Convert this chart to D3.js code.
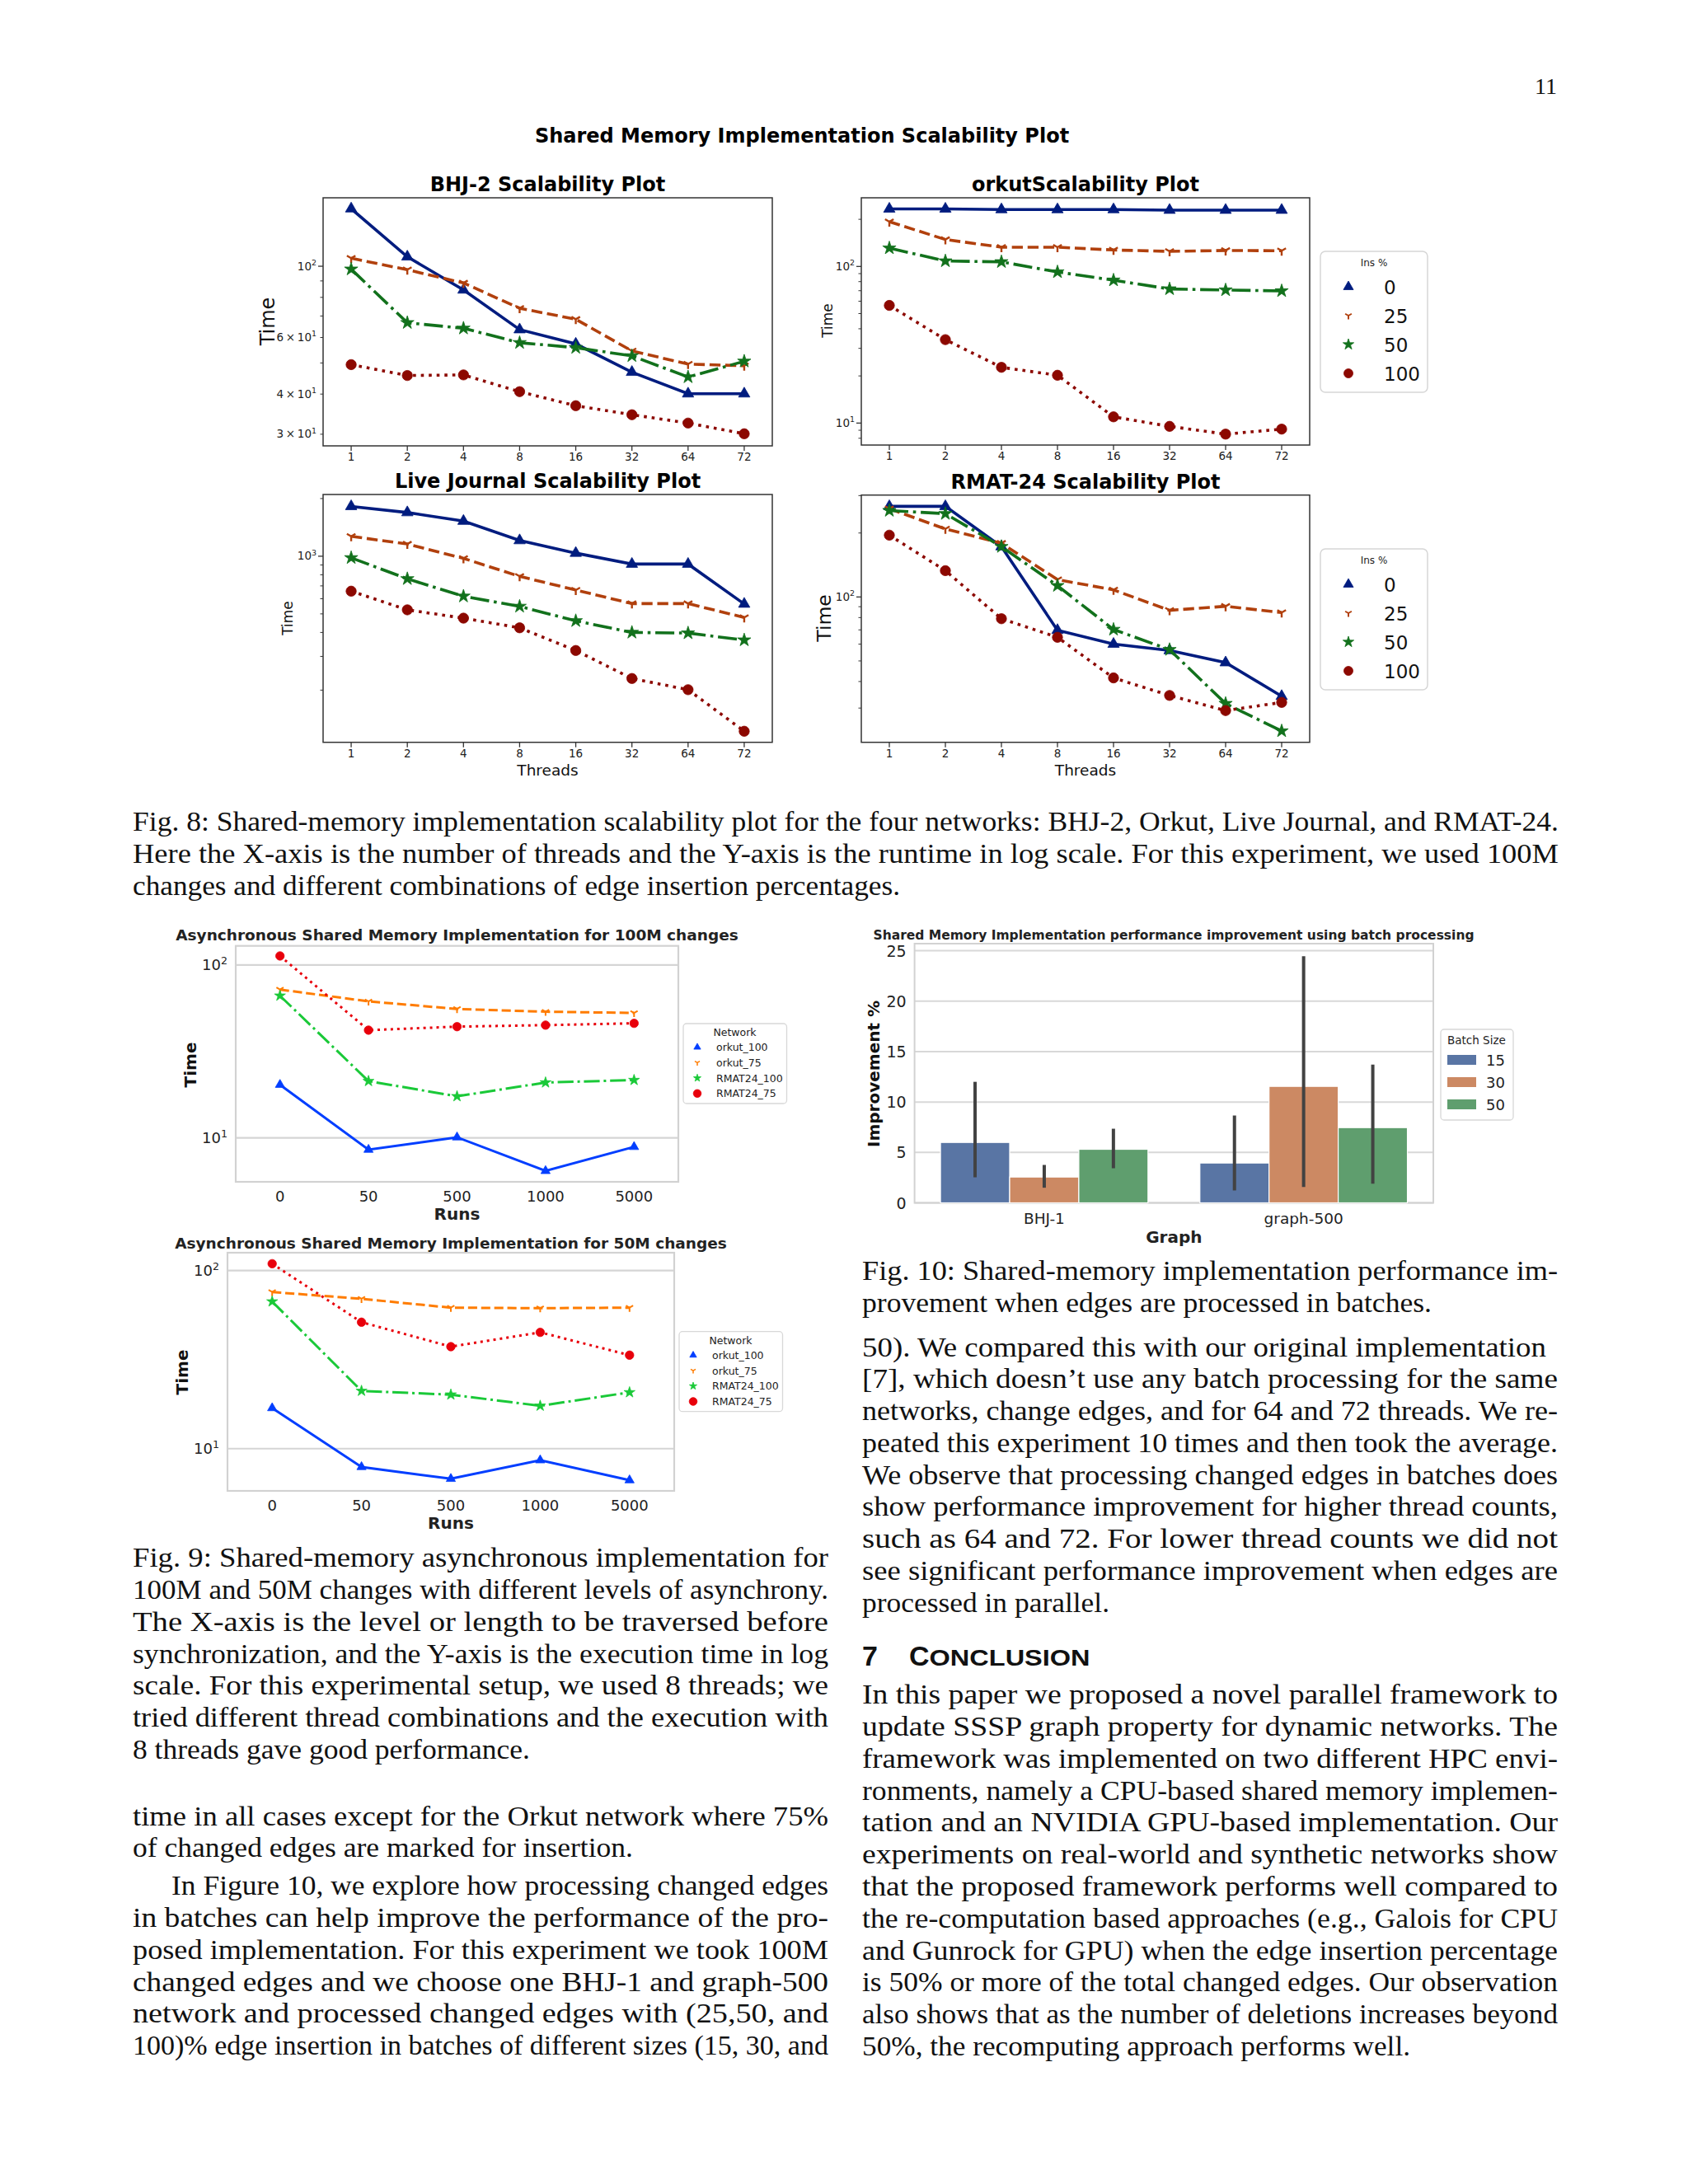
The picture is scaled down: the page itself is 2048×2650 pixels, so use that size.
<!DOCTYPE html>
<html><head><meta charset="utf-8">
<script src="https://cdn.jsdelivr.net/npm/d3@7"></script>
<style>body{margin:0;background:#fff}svg{display:block}</style>
</head><body>
<svg id="page" width="2048" height="2650"></svg>
<script>
// ---------------- DATA ----------------
const threads = ["1","2","4","8","16","32","64","72"];
const insPct = ["0","25","50","100"];
const bhj2_ins0   = [151,107,84.4,63.5,57.3,46.8,40.1,40.1];
const bhj2_ins25  = [105.9,97.5,88.7,74,68.4,54.5,49.6,49.0];
const bhj2_ins50  = [97.9,66.7,64.1,57.8,55.8,52.6,45.2,50.6];
const bhj2_ins100 = [49.4,45.7,45.9,40.7,36.8,34.5,32.5,30.1];
const orkut_ins0   = [233,233,231,231,231,229,229,229];
const orkut_ins25  = [193,148.6,132.7,132.7,127.4,124.8,126.5,126];
const orkut_ins50  = [131,108.3,107,92.2,81.7,71.8,70.7,69.8];
const orkut_ins100 = [56.4,34.1,22.7,20.2,10.96,9.53,8.5,9.15];
const lj_ins0   = [1820,1691,1525,1208,1038,910,910,563];
const lj_ins25  = [1270,1158,975,785,666,566,566,479];
const lj_ins50  = [981,762,618,547,460,400,397,365];
const lj_ins100 = [657,525,475,423,322,230,201,122];
const rmat_ins0   = [267,267,172.5,69.7,60,56,49.1,34.1];
const rmat_ins25  = [260,209,179,120.7,108,86.5,90.4,84.5];
const rmat_ins50  = [255,246.6,172.5,113,70.3,56.5,31.5,23.4];
const rmat_ins100 = [195.4,133,79,64.6,41.6,34.4,29.2,31.9];
const bhj2YTickLabels  = [30,40,60,100];
const orkutYTickLabels = [10,100];
const ljYTickLabels    = [1000];
const rmatYTickLabels  = [100];

const runs = ["0","50","500","1000","5000"];
const networks = ["orkut_100","orkut_75","RMAT24_100","RMAT24_75"];
const async100_orkut100 = [20.3,8.55,10.08,6.44,8.87];
const async100_orkut75  = [72.1,61.6,55.7,53.7,52.8];
const async100_rmat100  = [66.4,21.3,17.4,20.9,21.6];
const async100_rmat75   = [112.8,42,44,44.9,46];
const async50_orkut100 = [16.9,7.89,6.77,8.61,6.65];
const async50_orkut75  = [75.8,69.4,61.9,61.5,61.9];
const async50_rmat100  = [67,21.1,20.1,17.4,20.7];
const async50_rmat75   = [109.3,51.3,37.4,45,33.5];
const asyncYTickLabels = [10,100];

const graphs = ["BHJ-1","graph-500"];
const batchSizes = ["15","30","50"];
const improve_b15 = [5.99,3.95];
const improve_b30 = [2.56,11.55];
const improve_b50 = [5.31,7.46];
const ciLow_b15  = [2.53,1.23];
const ciHigh_b15 = [12.0,8.66];
const ciLow_b30  = [1.50,1.58];
const ciHigh_b30 = [3.76,24.46];
const ciLow_b50  = [3.43,1.91];
const ciHigh_b50 = [7.35,13.7];
const improveTicks = [0,5,10,15,20,25];

// ---------------- TEXT ----------------
const fig8Caption = [
 "Fig. 8: Shared-memory implementation scalability plot for the four networks: BHJ-2, Orkut, Live Journal, and RMAT-24.",
 "Here the X-axis is the number of threads and the Y-axis is the runtime in log scale. For this experiment, we used 100M",
 "changes and different combinations of edge insertion percentages."];
const fig9Caption = [
 "Fig. 9: Shared-memory asynchronous implementation for",
 "100M and 50M changes with different levels of asynchrony.",
 "The X-axis is the level or length to be traversed before",
 "synchronization, and the Y-axis is the execution time in log",
 "scale. For this experimental setup, we used 8 threads; we",
 "tried different thread combinations and the execution with",
 "8 threads gave good performance."];
const leftPara1 = [
 "time in all cases except for the Orkut network where 75%",
 "of changed edges are marked for insertion."];
const leftPara2 = [
 "In Figure 10, we explore how processing changed edges",
 "in batches can help improve the performance of the pro-",
 "posed implementation. For this experiment we took 100M",
 "changed edges and we choose one BHJ-1 and graph-500",
 "network and processed changed edges with (25,50, and",
 "100)% edge insertion in batches of different sizes (15, 30, and"];
const fig10Caption = [
 "Fig. 10: Shared-memory implementation performance im-",
 "provement when edges are processed in batches."];
const rightPara1 = [
 "50). We compared this with our original implementation",
 "[7], which doesn\u2019t use any batch processing for the same",
 "networks, change edges, and for 64 and 72 threads. We re-",
 "peated this experiment 10 times and then took the average.",
 "We observe that processing changed edges in batches does",
 "show performance improvement for higher thread counts,",
 "such as 64 and 72. For lower thread counts we did not",
 "see significant performance improvement when edges are",
 "processed in parallel."];
const conclusionPara = [
 "In this paper we proposed a novel parallel framework to",
 "update SSSP graph property for dynamic networks. The",
 "framework was implemented on two different HPC envi-",
 "ronments, namely a CPU-based shared memory implemen-",
 "tation and an NVIDIA GPU-based implementation. Our",
 "experiments on real-world and synthetic networks show",
 "that the proposed framework performs well compared to",
 "the re-computation based approaches (e.g., Galois for CPU",
 "and Gunrock for GPU) when the edge insertion percentage",
 "is 50% or more of the total changed edges. Our observation",
 "also shows that as the number of deletions increases beyond",
 "50%, the recomputing approach performs well."];

// ---------------- HELPERS ----------------
const svg = d3.select("#page");
const SANS = "DejaVu Sans, Verdana, sans-serif";
const SERIF = "Liberation Serif, Times New Roman, serif";

function markerPath(type, r) {
  if (type === "tri") return `M0,${-r}L${0.866*r},${0.5*r}L${-0.866*r},${0.5*r}Z`;
  if (type === "circle") return `M${r},0A${r},${r} 0 1,1 ${-r},0A${r},${r} 0 1,1 ${r},0Z`;
  if (type === "star") {
    let p = "";
    for (let i = 0; i < 10; i++) {
      const rr = i % 2 === 0 ? r : r * 0.382;
      const a = -Math.PI/2 + i * Math.PI/5;
      p += (i ? "L" : "M") + (rr*Math.cos(a)).toFixed(2) + "," + (rr*Math.sin(a)).toFixed(2);
    }
    return p + "Z";
  }
  if (type === "tridown") return `M0,0L0,${r}M0,0L${-0.866*r},${-0.5*r}M0,0L${0.866*r},${-0.5*r}`;
}
function drawMarker(g, type, cx, cy, r, color, sw) {
  const p = g.append("path").attr("d", markerPath(type, r)).attr("transform", `translate(${cx},${cy})`);
  if (type === "tridown") p.attr("fill","none").attr("stroke",color).attr("stroke-width",sw||2);
  else p.attr("fill",color).attr("stroke",color).attr("stroke-width",0.8);
}
function dashFor(style, lw) {
  if (style === "dashed") return [3.7*lw,1.6*lw].join(",");
  if (style === "dashdot") return [6.4*lw,1.6*lw,1*lw,1.6*lw].join(",");
  if (style === "dotted") return [1*lw,1.65*lw].join(",");
  return null;
}
function sciLabel(g, v, x, y, size, anchor) {
  const k = Math.round(Math.floor(Math.log10(v) + 1e-9));
  const m = Math.round(v / Math.pow(10, k));
  const t = g.append("text").attr("x", x).attr("y", y).attr("text-anchor", anchor||"end")
    .attr("font-family", SANS).attr("font-size", size).attr("fill", "#222");
  t.append("tspan").text(m === 1 ? "10" : m + "\u2009\u00d7\u200910");
  t.append("tspan").attr("font-size", size*0.7).attr("dy", -size*0.42).text(String(k));
  return t;
}
function textLine(x, y, s, opts) {
  const t = svg.append("text").attr("x", x).attr("y", y).text(s)
    .attr("font-family", opts.family || SERIF).attr("font-size", opts.size || 33)
    .attr("fill", opts.fill || "#111");
  if (opts.weight) t.attr("font-weight", opts.weight);
  if (opts.anchor) t.attr("text-anchor", opts.anchor);
  if (opts.width) t.attr("textLength", opts.width).attr("lengthAdjust", "spacingAndGlyphs");
  return t;
}
function rotLabel(x, y, s, size, weight) {
  svg.append("text").attr("transform", `translate(${x},${y}) rotate(-90)`)
    .attr("text-anchor","middle").attr("font-family", SANS).attr("font-size", size)
    .attr("font-weight", weight || "normal").attr("fill","#111").text(s);
}

// ---------------- SCALABILITY PLOTS ----------------
const darkPal = ["#001c7f","#b1400d","#12711c","#8c0800"];
const insStyles = [
  {dash:"solid", marker:"tri", r:8},
  {dash:"dashed", marker:"tridown", r:6},
  {dash:"dashdot", marker:"star", r:8.5},
  {dash:"dotted", marker:"circle", r:6.2}];

function scalPlot(p) {
  const g = svg.append("g");
  const x = d3.scalePoint().domain(threads).range([p.left, p.right]).padding(0.5);
  const y = d3.scaleLog().domain(p.domain).range([p.bottom, p.top]);
  const lo = Math.floor(Math.log10(p.domain[0])), hi = Math.ceil(Math.log10(p.domain[1]));
  for (let k = lo; k <= hi; k++) for (let m = 1; m <= 9; m++) {
    const v = m * Math.pow(10, k);
    if (v < p.domain[0] || v > p.domain[1]) continue;
    const len = m === 1 ? 6 : 3.5;
    g.append("line").attr("x1", p.left - len).attr("x2", p.left).attr("y1", y(v)).attr("y2", y(v))
      .attr("stroke","#333").attr("stroke-width", m === 1 ? 1.3 : 1);
  }
  p.yLabels.forEach(v => sciLabel(g, v, p.left - 8, y(v) + 4.5, 13.5));
  threads.forEach(t => {
    g.append("line").attr("x1", x(t)).attr("x2", x(t)).attr("y1", p.bottom).attr("y2", p.bottom + 6)
      .attr("stroke","#333").attr("stroke-width",1.3);
    g.append("text").attr("x", x(t)).attr("y", p.bottom + 18).attr("text-anchor","middle")
      .attr("font-family", SANS).attr("font-size", 13.5).attr("fill","#222").text(t);
  });
  const lw = 3.6;
  p.series.forEach((vals, i) => {
    const st = insStyles[i];
    const line = d3.line().x((d, j) => x(threads[j])).y(d => y(d));
    const path = g.append("path").datum(vals).attr("d", line).attr("fill","none")
      .attr("stroke", darkPal[i]).attr("stroke-width", lw);
    const da = dashFor(st.dash, lw); if (da) path.attr("stroke-dasharray", da);
    vals.forEach((v, j) => drawMarker(g, st.marker, x(threads[j]), y(v), st.r, darkPal[i], 2.4));
  });
  g.append("rect").attr("x", p.left).attr("y", p.top).attr("width", p.right - p.left)
    .attr("height", p.bottom - p.top).attr("fill","none").attr("stroke","#333").attr("stroke-width",1.5);
  g.append("text").attr("x", (p.left + p.right)/2).attr("y", p.top - 8).attr("text-anchor","middle")
    .attr("font-family", SANS).attr("font-weight","bold").attr("font-size", 24).attr("fill","#000").text(p.title);
  rotLabel(p.ylab[0], p.ylab[1], "Time", p.ylab[2]);
  if (p.xlab) g.append("text").attr("x", (p.left + p.right)/2).attr("y", p.bottom + 40)
    .attr("text-anchor","middle").attr("font-family", SANS).attr("font-size", 18.5).attr("fill","#111").text("Threads");
}
function insLegend(x0, y0) {
  const g = svg.append("g");
  g.append("rect").attr("x", x0).attr("y", y0).attr("width", 130).attr("height", 171).attr("rx", 6)
    .attr("fill","#fff").attr("stroke","#d6d6d6").attr("stroke-width",1.5);
  g.append("text").attr("x", x0 + 65).attr("y", y0 + 18).attr("text-anchor","middle")
    .attr("font-family", SANS).attr("font-size", 12).attr("fill","#222").text("Ins %");
  insPct.forEach((s, i) => {
    const cy = y0 + 43 + i * 35;
    const st = insStyles[i];
    drawMarker(g, st.marker, x0 + 34, cy, st.marker === "tridown" ? 4.5 : (st.marker === "circle" ? 5.5 : 7), darkPal[i], 2);
    g.append("text").attr("x", x0 + 77).attr("y", cy + 8.5).attr("font-family", SANS)
      .attr("font-size", 23).attr("fill","#111").text(s);
  });
}

svg.append("text").attr("x", 973).attr("y", 173).attr("text-anchor","middle").attr("font-family", SANS)
  .attr("font-weight","bold").attr("font-size", 24).attr("fill","#000").text("Shared Memory Implementation Scalability Plot");

scalPlot({left:392, right:937, top:240, bottom:541, domain:[27.6,163.3], yLabels:bhj2YTickLabels,
  title:"BHJ-2 Scalability Plot", ylab:[333,390,24], series:[bhj2_ins0,bhj2_ins25,bhj2_ins50,bhj2_ins100]});
scalPlot({left:1045, right:1589, top:240, bottom:540, domain:[7.24,274.4], yLabels:orkutYTickLabels,
  title:"orkutScalability Plot", ylab:[1010,389,17], series:[orkut_ins0,orkut_ins25,orkut_ins50,orkut_ins100]});
scalPlot({left:392, right:937, top:600, bottom:900.7, domain:[106.8,2100], yLabels:ljYTickLabels,
  title:"Live Journal Scalability Plot", ylab:[355,750,17], xlab:true, series:[lj_ins0,lj_ins25,lj_ins50,lj_ins100]});
scalPlot({left:1045, right:1589, top:600.7, bottom:900.7, domain:[20.7,301.7], yLabels:rmatYTickLabels,
  title:"RMAT-24 Scalability Plot", ylab:[1008,750,23.5], xlab:true, series:[rmat_ins0,rmat_ins25,rmat_ins50,rmat_ins100]});
insLegend(1602, 305);
insLegend(1602, 666);

// ---------------- ASYNC PLOTS ----------------
const brightPal = ["#023eff","#ff7c00","#1ac938","#e8000b"];
const netStyles = [
  {dash:"solid", marker:"tri", r:6.5},
  {dash:"dashed", marker:"tridown", r:5},
  {dash:"dashdot", marker:"star", r:7},
  {dash:"dotted", marker:"circle", r:5.2}];
function asyncPlot(p) {
  const g = svg.append("g");
  const x = d3.scalePoint().domain(runs).range([p.left, p.right]).padding(0.5);
  const y = d3.scaleLog().domain(p.domain).range([p.bottom, p.top]);
  asyncYTickLabels.forEach(v => {
    g.append("line").attr("x1", p.left).attr("x2", p.right).attr("y1", y(v)).attr("y2", y(v))
      .attr("stroke","#d5d5d5").attr("stroke-width",2.2);
    sciLabel(g, v, p.left - 10, y(v) + 6.5, 18);
  });
  g.append("rect").attr("x", p.left).attr("y", p.top).attr("width", p.right - p.left)
    .attr("height", p.bottom - p.top).attr("fill","none").attr("stroke","#d2d2d2").attr("stroke-width",2.2);
  runs.forEach(r => g.append("text").attr("x", x(r)).attr("y", p.bottom + 23.5).attr("text-anchor","middle")
    .attr("font-family", SANS).attr("font-size", 18).attr("fill","#222").text(r));
  const lw = 3;
  p.series.forEach((vals, i) => {
    const st = netStyles[i];
    const line = d3.line().x((d, j) => x(runs[j])).y(d => y(d));
    const path = g.append("path").datum(vals).attr("d", line).attr("fill","none")
      .attr("stroke", brightPal[i]).attr("stroke-width", lw);
    const da = dashFor(st.dash, lw); if (da) path.attr("stroke-dasharray", da);
    vals.forEach((v, j) => drawMarker(g, st.marker, x(runs[j]), y(v), st.r, brightPal[i], 2));
  });
  g.append("text").attr("x", (p.left + p.right)/2).attr("y", p.titleY).attr("text-anchor","middle")
    .attr("font-family", SANS).attr("font-weight","bold").attr("font-size", 18.5).attr("fill","#222").text(p.title);
  g.append("text").attr("x", (p.left + p.right)/2).attr("y", p.bottom + 46).attr("text-anchor","middle")
    .attr("font-family", SANS).attr("font-weight","bold").attr("font-size", 20).attr("fill","#222").text("Runs");
  rotLabel(p.ylab[0], p.ylab[1], "Time", 20, "bold");
  const lx = p.leg[0], ly = p.leg[1];
  g.append("rect").attr("x", lx).attr("y", ly).attr("width", 125.5).attr("height", 97).attr("rx", 4)
    .attr("fill","#fff").attr("stroke","#d8d8d8").attr("stroke-width",1.3);
  g.append("text").attr("x", lx + 62.5).attr("y", ly + 15).attr("text-anchor","middle").attr("font-family", SANS)
    .attr("font-size", 12.5).attr("fill","#222").text("Network");
  networks.forEach((n, i) => {
    const cy = ly + 28.7 + i * 18.7;
    const st = netStyles[i];
    drawMarker(g, st.marker, lx + 17, cy, st.marker === "tridown" ? 3.5 : 4.8, brightPal[i], 1.5);
    g.append("text").attr("x", lx + 40).attr("y", cy + 4.6).attr("font-family", SANS)
      .attr("font-size", 12.5).attr("fill","#222").text(n);
  });
}
asyncPlot({left:286, right:823, top:1147.7, bottom:1434, domain:[5.57,129], titleY:1141,
  title:"Asynchronous Shared Memory Implementation for 100M changes", ylab:[238,1292], leg:[829,1242],
  series:[async100_orkut100,async100_orkut75,async100_rmat100,async100_rmat75]});
asyncPlot({left:276, right:818, top:1520, bottom:1809, domain:[5.79,126], titleY:1515,
  title:"Asynchronous Shared Memory Implementation for 50M changes", ylab:[228,1665], leg:[824,1615.7],
  series:[async50_orkut100,async50_orkut75,async50_rmat100,async50_rmat75]});

// ---------------- BAR CHART ----------------
(function(){
  const pal = ["#5975a4","#cc8963","#5f9e6e"];
  const L = 1109.6, R = 1739, T = 1145, B = 1459.5;
  const g = svg.append("g");
  const x = d3.scaleBand().domain(graphs).range([L, R]);
  const xh = d3.scaleBand().domain(batchSizes).range([0, x.bandwidth()*0.8]);
  const y = d3.scaleLinear().domain([0, 25.7]).range([B, T]);
  improveTicks.forEach(v => {
    g.append("line").attr("x1", L).attr("x2", R).attr("y1", y(v)).attr("y2", y(v))
      .attr("stroke","#d8d8d8").attr("stroke-width",2);
    g.append("text").attr("x", L - 10).attr("y", y(v) + 7).attr("text-anchor","end")
      .attr("font-family", SANS).attr("font-size", 19).attr("fill","#222").text(v);
  });
  g.append("rect").attr("x", L).attr("y", T).attr("width", R - L).attr("height", B - T)
    .attr("fill","none").attr("stroke","#d2d2d2").attr("stroke-width",2);
  const vals = [improve_b15, improve_b30, improve_b50];
  const lows = [ciLow_b15, ciLow_b30, ciLow_b50];
  const highs = [ciHigh_b15, ciHigh_b30, ciHigh_b50];
  batchSizes.forEach((b, i) => {
    graphs.forEach((gr, j) => {
      const x0 = x(gr) + x.bandwidth()*0.1 + xh(b);
      g.append("rect").attr("x", x0).attr("y", y(vals[i][j])).attr("width", xh.bandwidth())
        .attr("height", y(0) - y(vals[i][j])).attr("fill", pal[i]).attr("stroke","#fff").attr("stroke-width",1.2);
    });
  });
  batchSizes.forEach((b, i) => {
    graphs.forEach((gr, j) => {
      const cx = x(gr) + x.bandwidth()*0.1 + xh(b) + xh.bandwidth()/2;
      g.append("line").attr("x1", cx).attr("x2", cx).attr("y1", y(lows[i][j])).attr("y2", y(highs[i][j]))
        .attr("stroke","#424242").attr("stroke-width",4);
    });
  });
  graphs.forEach(gr => g.append("text").attr("x", x(gr) + x.bandwidth()/2).attr("y", B + 25)
    .attr("text-anchor","middle").attr("font-family", SANS).attr("font-size", 18.5).attr("fill","#222").text(gr));
  g.append("text").attr("x", (L + R)/2).attr("y", 1508).attr("text-anchor","middle").attr("font-family", SANS)
    .attr("font-weight","bold").attr("font-size", 20).attr("fill","#222").text("Graph");
  g.append("text").attr("x", 1424).attr("y", 1140).attr("text-anchor","middle").attr("font-family", SANS)
    .attr("font-weight","bold").attr("font-size", 15.5).attr("fill","#222")
    .text("Shared Memory Implementation performance improvement using batch processing");
  rotLabel(1067, 1303, "Improvement %", 20, "bold");
  g.append("rect").attr("x", 1748).attr("y", 1249).attr("width", 88).attr("height", 110).attr("rx", 4)
    .attr("fill","#fff").attr("stroke","#d8d8d8").attr("stroke-width",1.3);
  g.append("text").attr("x", 1756).attr("y", 1267).attr("font-family", SANS).attr("font-size", 13.5)
    .attr("fill","#222").text("Batch Size");
  batchSizes.forEach((b, i) => {
    const cy = 1286 + i * 27;
    g.append("rect").attr("x", 1756).attr("y", cy - 6).attr("width", 35).attr("height", 12).attr("fill", pal[i]);
    g.append("text").attr("x", 1803).attr("y", cy + 6.5).attr("font-family", SANS).attr("font-size", 18)
      .attr("fill","#222").text(b);
  });
})();

// ---------------- PAGE TEXT ----------------
textLine(1889, 114, "11", {anchor:"end", size:28});
const LH = 38.85;
const fig8W = [1730, 1730, 931];
fig8Caption.forEach((s, i) => textLine(161, 1008 + i*LH, s, {width: fig8W[i]}));
const fig9W = [844,844,844,844,844,844,482];
fig9Caption.forEach((s, i) => textLine(161, 1901 + i*LH, s, {width: fig9W[i]}));
const lp1W = [844, 607];
leftPara1.forEach((s, i) => textLine(161, 2214.5 + i*LH, s, {width: lp1W[i]}));
leftPara2.forEach((s, i) => textLine(i === 0 ? 208 : 161, 2299 + i*LH, s, {width: i === 0 ? 797 : 844}));
const f10W = [844, 691];
fig10Caption.forEach((s, i) => textLine(1046, 1553 + i*LH, s, {width: f10W[i]}));
rightPara1.forEach((s, i) => textLine(1046, 1645.7 + i*38.73, s,
  {width: i === 0 ? 830 : (i === rightPara1.length - 1 ? 300 : 844)}));
conclusionPara.forEach((s, i) => textLine(1046, 2067.2 + i*38.8, s,
  {width: i === conclusionPara.length - 1 ? 665 : 844}));
const hd = svg.append("text").attr("x", 1046).attr("y", 2021).attr("font-family","Liberation Sans, Arial, sans-serif")
  .attr("font-weight","bold").attr("fill","#111");
hd.append("tspan").attr("font-size", 34).text("7");
hd.append("tspan").attr("x", 1103).attr("font-size", 34).text("C");
hd.append("tspan").attr("font-size", 27).attr("textLength", 195).attr("lengthAdjust","spacingAndGlyphs").text("ONCLUSION");
</script>
</body></html>
